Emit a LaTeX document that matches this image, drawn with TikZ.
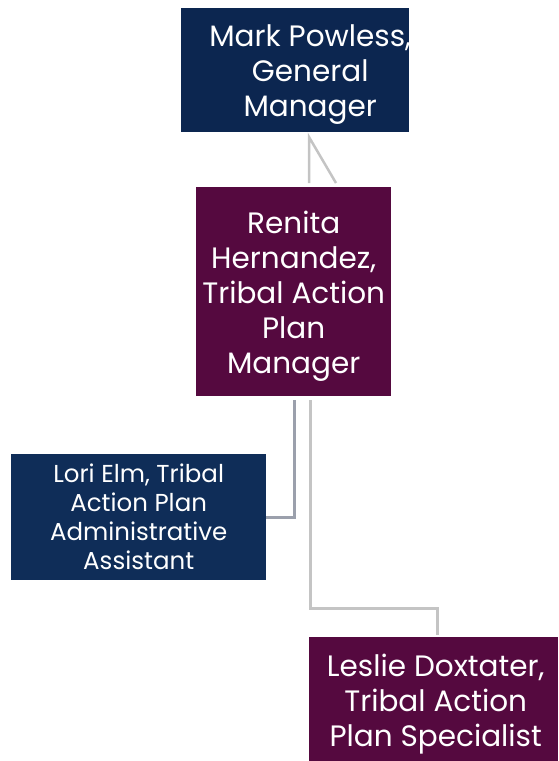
\documentclass[tikz,border=0pt]{standalone}
\usepackage{fontspec}
\setmainfont{Poppins}
\definecolor{navy}{HTML}{0C2650}
\definecolor{navyb}{HTML}{0F2D58}
\definecolor{maroon}{HTML}{55093F}
\definecolor{lineA}{HTML}{C4C4C4}
\definecolor{lineB}{HTML}{9BA0AC}
\begin{document}
\begin{tikzpicture}[x=1pt,y=-1pt,
  box/.style={draw=none,inner sep=0pt,anchor=north west},
  txt/.style={inner sep=0pt,align=center,text=white},
  big/.style={font=\fontsize{29.5}{35}\selectfont},
  small/.style={font=\fontsize{24.5}{29}\selectfont},
  conn/.style={line width=3pt}]
\useasboundingbox (0,0) rectangle (558,761);
\node[box,fill=navy,minimum width=228pt,minimum height=124pt] (mark) at (181,8) {};
\node[txt,big] (markT) at ([xshift=15pt,yshift=-4pt]mark.center) {Mark Powless,\\General\\Manager};
\node[box,fill=maroon,minimum width=195pt,minimum height=209pt] (renita) at (196,187) {};
\node[txt,big] (renitaT) at ([yshift=-5pt]renita.center) {Renita\\Hernandez,\\Tribal Action\\Plan\\Manager};
\node[box,fill=navyb,minimum width=255pt,minimum height=126pt] (lori) at (11,454) {};
\node[txt,small] (loriT) at (lori.center) {Lori Elm, Tribal\\Action Plan\\Administrative\\Assistant};
\node[box,fill=maroon,minimum width=249pt,minimum height=124pt] (leslie) at (309,637) {};
\node[txt,big] (leslieT) at ([xshift=2pt,yshift=-5pt]leslie.center) {Leslie Doxtater,\\Tribal Action\\Plan Specialist};
\coordinate (t1) at (309,137);
\coordinate (t2) at (309,183);
\coordinate (t3) at (336,183);
\draw[lineA,line width=2.5pt] (t2) -- (t1) -- (t3);
\coordinate (a1) at (294,400);
\coordinate (a2) at (294,517);
\draw[lineB,conn] (a1) -- (a2) -- (a2 -| lori.east);
\coordinate (b1) at (310,400);
\coordinate (b2) at (310,608);
\coordinate (b3) at (437,608);
\coordinate (b4) at (437,635);
\draw[lineA,conn] (b1) -- (b2) -- (b3) -- (b4);
\end{tikzpicture}
\end{document}
